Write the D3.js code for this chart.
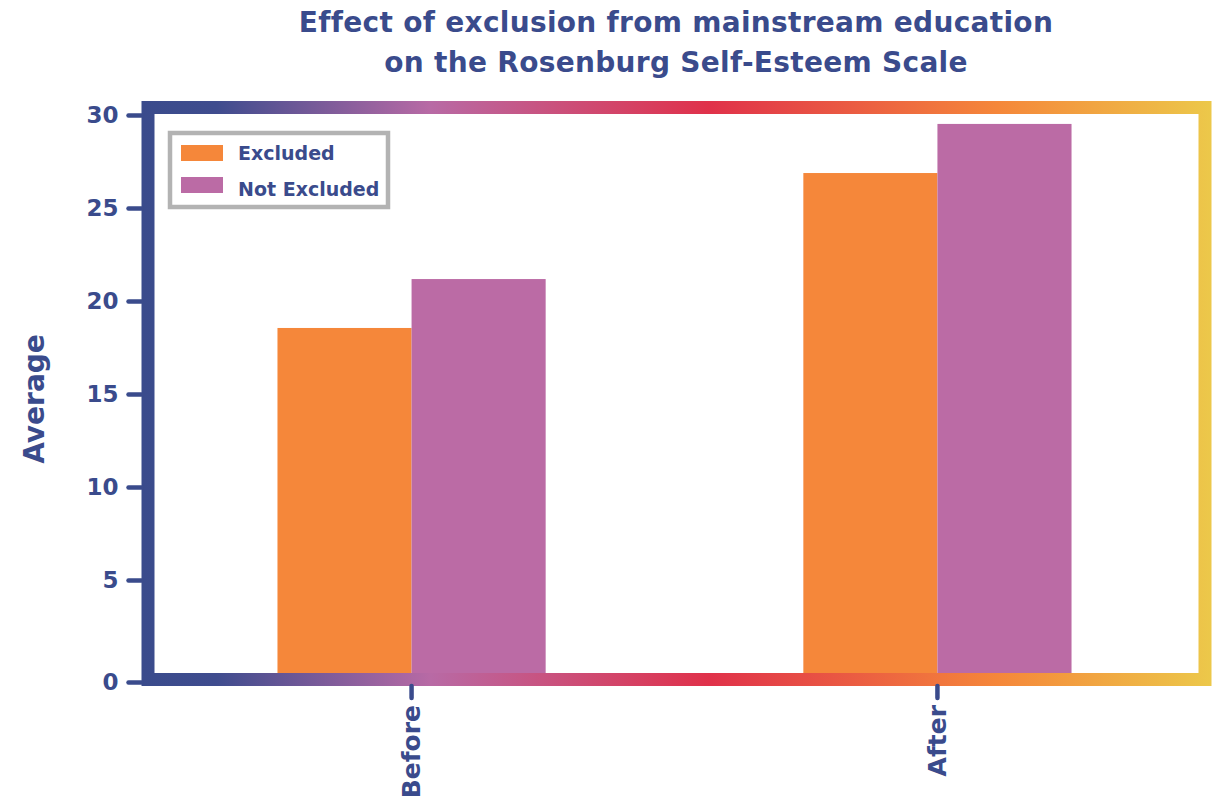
<!DOCTYPE html>
<html>
<head>
<meta charset="utf-8">
<script src="https://cdn.jsdelivr.net/npm/d3@7"></script>
<style>
    body { margin: 0; background: #fff; }
    text { font-family: "DejaVu Sans", sans-serif; font-weight: bold; }
</style>
</head>
<body>
<div class="canvas"></div>
<script>
// data
const categories = ['Before', 'After']
const seriesNames = ['Excluded', 'Not Excluded']
const excluded = [18.55, 26.88]
const notExcluded = [21.18, 29.52]
const yTicks = [0, 5, 10, 15, 20, 25, 30]

const colours = ['#f5873a', '#bb6ba5']
const navy = '#3a4b8c'

const data = categories.map((c, i) => ({ name: c, values: [excluded[i], notExcluded[i]] }))

// svg
const svg = d3.select('.canvas')
                .append('svg')
                .attr('width', 1218)
                .attr('height', 801)

// frame edges (centre of the thick border)
const frame = { left: 148, right: 1205, top: 107.5, bottom: 679.5 }
const border = 13

//scales
const y = d3.scaleLinear()
            .domain([0, 30])
            .range([frame.bottom - border / 2, 115])
const x = d3.scaleBand()
            .domain(categories)
            .range([frame.left - 2, frame.right - 2])
            .paddingInner(0.49)
            .paddingOuter(0.25)
const xSub = d3.scaleBand()
            .domain(seriesNames)
            .range([0, x.bandwidth()])

// title
svg.append('text')
    .attr('x', 676)
    .attr('text-anchor', 'middle')
    .attr('fill', navy)
    .attr('font-size', 28)
    .attr('letter-spacing', 0.3)
    .selectAll('tspan')
    .data(['Effect of exclusion from mainstream education', 'on the Rosenburg Self-Esteem Scale'])
    .enter()
    .append('tspan')
        .attr('x', 676)
        .attr('y', (d, i) => 32 + i * 40)
        .text(d => d)

// bars
const groups = svg.selectAll('g.cat')
                .data(data)
                .enter()
                .append('g')
                .attr('class', 'cat')
                .attr('transform', d => `translate(${x(d.name)}, 0)`)

groups.selectAll('rect')
    .data(d => d.values.map((v, i) => ({ key: seriesNames[i], value: v, i })))
    .enter()
    .append('rect')
        .attr('x', d => xSub(d.key))
        .attr('width', xSub.bandwidth())
        .attr('y', d => y(d.value))
        .attr('height', d => y(0) - y(d.value))
        .attr('fill', d => colours[d.i])

// gradient for the frame
const grad = svg.append('defs')
                .append('linearGradient')
                .attr('id', 'frameGrad')
                .attr('gradientUnits', 'userSpaceOnUse')
                .attr('x1', frame.left - border / 2)
                .attr('x2', frame.right + border / 2)
                .attr('y1', 0)
                .attr('y2', 0)
grad.selectAll('stop')
    .data([
        { o: 0, c: '#3a4b8c' },
        { o: 0.07, c: '#3f4c8e' },
        { o: 0.27, c: '#b86aa5' },
        { o: 0.53, c: '#e0314a' },
        { o: 0.8, c: '#f5873a' },
        { o: 1, c: '#ecc84a' }
    ])
    .enter()
    .append('stop')
        .attr('offset', d => d.o)
        .attr('stop-color', d => d.c)

svg.append('rect')
    .attr('x', frame.left)
    .attr('y', frame.top)
    .attr('width', frame.right - frame.left)
    .attr('height', frame.bottom - frame.top)
    .attr('fill', 'none')
    .attr('stroke', 'url(#frameGrad)')
    .attr('stroke-width', border)

// y axis
const yAxisGroup = svg.append('g')
                    .attr('transform', `translate(${frame.left - border / 2}, 0)`)
const yAxis = d3.axisLeft(y)
                .tickValues(yTicks)
                .tickSize(13)
                .tickPadding(10)
yAxisGroup.call(yAxis)
yAxisGroup.select('.domain').remove()
yAxisGroup.selectAll('line')
    .attr('stroke', navy)
    .attr('stroke-width', 4.5)
    .attr('stroke-linecap', 'round')
yAxisGroup.selectAll('text')
    .attr('fill', navy)
    .attr('font-size', 23)
    .attr('font-family', '"DejaVu Sans", sans-serif')
// the zero label sits on the frame line
yAxisGroup.selectAll('.tick')
    .filter(d => d === 0)
    .attr('transform', `translate(0, ${frame.bottom + 3})`)

// x axis
const xAxisGroup = svg.append('g')
                    .attr('transform', `translate(0, ${frame.bottom + border / 2})`)
const xAxis = d3.axisBottom(x)
                .tickSize(12)
                .tickPadding(8)
xAxisGroup.call(xAxis)
xAxisGroup.select('.domain').remove()
xAxisGroup.selectAll('line')
    .attr('stroke', navy)
    .attr('stroke-width', 4.5)
    .attr('stroke-linecap', 'round')
xAxisGroup.selectAll('text')
    .attr('fill', navy)
    .attr('font-size', 25)
    .attr('font-family', '"DejaVu Sans", sans-serif')
    .attr('transform', 'rotate(-90)')
    .attr('text-anchor', 'end')
    .attr('dy', '0.35em')
    .attr('x', -19)
    .attr('y', 0)

// y label
svg.append('text')
    .attr('transform', 'translate(44, 399) rotate(-90)')
    .attr('text-anchor', 'middle')
    .attr('fill', navy)
    .attr('font-size', 28)
    .text('Average')

// legend
svg.append('rect')
    .attr('x', 170)
    .attr('y', 133)
    .attr('width', 218)
    .attr('height', 74)
    .attr('fill', '#fff')
    .attr('stroke', '#b3b3b3')
    .attr('stroke-width', 4.5)
const items = svg.selectAll('g.leg')
                .data(seriesNames)
                .enter()
                .append('g')
                .attr('class', 'leg')
                .attr('transform', (d, i) => `translate(181, ${145 + i * 32})`)
items.append('rect')
    .attr('width', 42)
    .attr('height', 16)
    .attr('fill', (d, i) => colours[i])
items.append('text')
    .attr('x', 57)
    .attr('y', (d, i) => 15 + i * 4)
    .attr('fill', navy)
    .attr('font-size', 19)
    .text(d => d)
</script>
</body>
</html>
